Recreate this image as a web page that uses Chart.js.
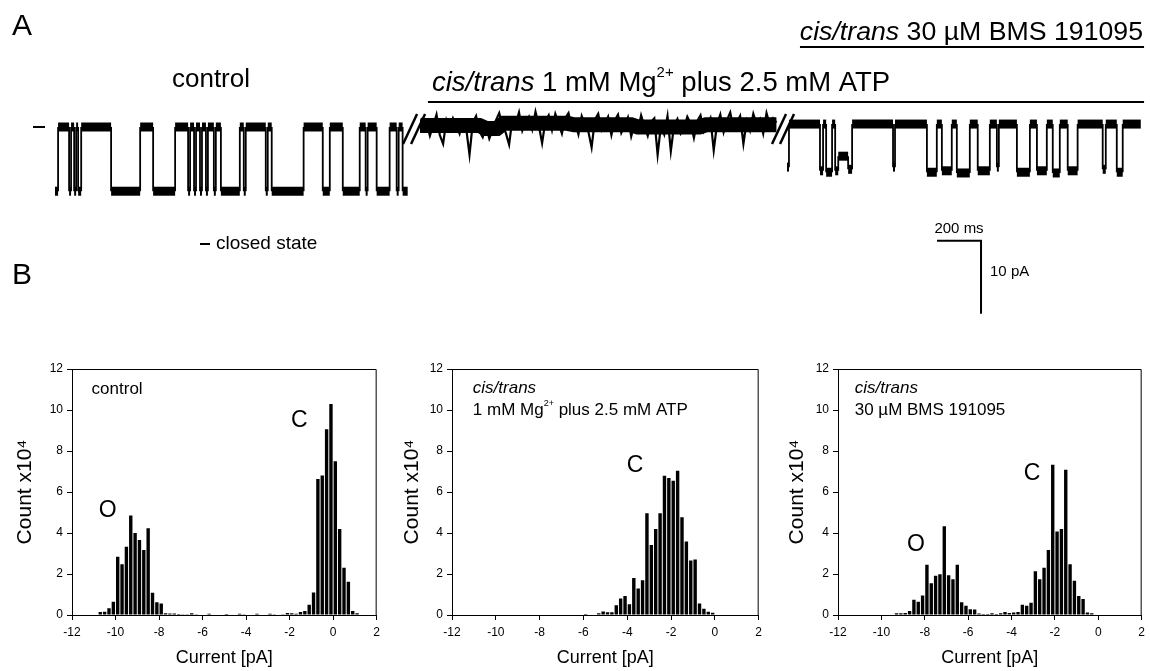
<!DOCTYPE html>
<html>
<head>
<meta charset="utf-8">
<script src="https://cdn.jsdelivr.net/npm/chart.js@4.4.0/dist/chart.umd.min.js"></script>
<style>
  html, body { margin: 0; padding: 0; background: #fff; }
  #wrap { position: relative; width: 1150px; height: 671px; overflow: hidden; }
  canvas { position: absolute; }
</style>
</head>
<body>
<div id="wrap">
  <canvas id="traces" width="1150" height="335" style="left:0;top:0"></canvas>
  <canvas id="h1" width="385" height="331" style="left:0;top:340px"></canvas>
  <canvas id="h2" width="382" height="331" style="left:385px;top:340px"></canvas>
  <canvas id="h3" width="383" height="331" style="left:767px;top:340px"></canvas>
</div>
<script>
const FONT = "'Liberation Sans', Arial, sans-serif";

// ---- panel A: single channel current traces, [current pA, dwell ms]
const controlStart = 0;
const controlTrace = [
  [-8.8, 14], [0, 50], [-8.8, 9], [0, 14], [-8.8, 9], [0, 9], [-8.8, 14], [0, 136],
  [-8.8, 132], [0, 59], [-8.8, 100], [0, 59], [-8.8, 9], [0, 18], [-8.8, 9], [0, 18],
  [-8.8, 9], [0, 18], [-8.8, 9], [0, 27], [-8.8, 9], [0, 23], [-8.8, 86], [0, 18],
  [-8.8, 9], [0, 91], [-8.8, 9], [0, 18], [-8.8, 145], [0, 87], [-8.8, 32], [0, 59],
  [-8.8, 77], [0, 27], [-8.8, 9], [0, 41], [-8.8, 59], [0, 32], [-8.8, 9], [0, 18],
  [-8.8, 23]
];

// Mg/ATP stretch: mean current [offset ms, pA] and sampled noise (pA), one value every mgStep ms
const mgStart = 1659;
const mgMean = [
  [0, 0.2], [270, 0.2], [300, -0.2], [350, -0.2], [380, 0.5], [670, 0.5], [700, 0.3],
  [960, 0.3], [990, 0.0], [1270, 0.0], [1300, 0.3], [1620, 0.3]
];
const mgStep = 15;
const mgTrace = [
  1.4, -0.3, 0.6, -1.2, 0.2, 1.7, -1.1, -2.3, 0.9, -0.4,
  1.2, 0.3, -0.9, 0.8, -0.2, -3.8, 0.6, 1.5, -0.6, -1.4,
  0.2, -1.6, -0.4, 0.9, 1.9, 0.1, -0.8, -2.4, 1.1, 0.4,
  2.0, -0.5, 0.7, 1.4, -0.3, 2.1, 0.2, -2.2, 0.8, 1.6,
  -0.4, 1.8, 0.5, -0.9, 1.2, 1.9, -0.2, 0.6, -1.0, 1.5,
  0.3, -0.6, -2.8, 1.0, 1.8, -0.4, 0.5, 1.4, -1.1, 0.9,
  1.7, -0.8, 0.2, 1.3, -1.3, 0.4, -0.5, 1.6, 0.1, -1.2,
  0.7, 1.2, -3.8, 0.2, -1.0, 1.5, -3.3, 0.3, 1.1, -0.9,
  -0.2, 1.4, 0.5, -1.5, 0.8, 1.6, -0.6, 0.3, 1.2, -3.2,
  0.4, 1.7, -0.7, 0.9, 2.0, -0.2, 0.6, 1.5, -2.3, 0.8,
  -0.5, 1.8, 0.4, 1.1, -0.9, 1.9, 0.3, 1.2, 0.6
];

const bmsStart = 3327;
const bmsTrace = [
  [-5.5, 9], [0.4, 141], [-6.0, 14], [0.4, 14], [-6.2, 27], [0.4, 14], [-6.0, 14], [-4.0, 45],
  [-5.8, 18], [0.4, 186], [-5.5, 9], [0.4, 145], [-6.2, 45], [0.4, 23], [-6.0, 45], [0.4, 23],
  [-6.3, 59], [0.4, 36], [-6.0, 55], [0.4, 32], [-5.5, 9], [0.4, 82], [-6.2, 59], [0.4, 32],
  [-6.0, 45], [0.4, 27], [-6.3, 32], [0.4, 36], [-6.0, 45], [0.4, 114], [-5.8, 14], [0.4, 50],
  [-6.2, 27], [0.4, 82]
];

const breakTimes = [1632, 3309];
const mgOn = 1695, bmsOn = 3386, recordEnd = 4950;
const scaleBar = { t: 4009, i: -15.6, ms: 200, pA: 10 };

// ---- panel B: all-points histograms, bin centres (pA) and counts (x10^4)
const binCenters = [
  -11.9, -11.7, -11.5, -11.3, -11.1, -10.9, -10.7, -10.5, -10.3, -10.1,
  -9.9, -9.7, -9.5, -9.3, -9.1, -8.9, -8.7, -8.5, -8.3, -8.1,
  -7.9, -7.7, -7.5, -7.3, -7.1, -6.9, -6.7, -6.5, -6.3, -6.1,
  -5.9, -5.7, -5.5, -5.3, -5.1, -4.9, -4.7, -4.5, -4.3, -4.1,
  -3.9, -3.7, -3.5, -3.3, -3.1, -2.9, -2.7, -2.5, -2.3, -2.1,
  -1.9, -1.7, -1.5, -1.3, -1.1, -0.9, -0.7, -0.5, -0.3, -0.1,
  0.1, 0.3, 0.5, 0.7, 0.9, 1.1, 1.3, 1.5, 1.7, 1.9
];
const controlCounts = [
  0, 0, 0, 0, 0, 0, 0.15, 0.16, 0.33, 0.65,
  2.84, 2.48, 3.33, 4.85, 4.0, 3.66, 3.17, 4.23, 1.09, 0.62,
  0.56, 0.08, 0.07, 0.07, 0.05, 0.04, 0.04, 0.08, 0.04, 0.03,
  0.03, 0.06, 0.03, 0.03, 0.03, 0.05, 0.03, 0.03, 0.06, 0.04,
  0.03, 0.03, 0.06, 0.03, 0.03, 0.06, 0.04, 0.03, 0.04, 0.1,
  0.08, 0.06, 0.15, 0.2, 0.5, 1.1, 6.64, 6.81, 9.06, 10.29,
  7.5, 4.2, 2.3, 1.62, 0.2, 0.08, 0.02, 0, 0, 0
];
const mgCounts = [
  0, 0, 0, 0, 0, 0, 0, 0, 0, 0,
  0, 0, 0, 0, 0, 0, 0, 0, 0, 0,
  0, 0, 0, 0, 0, 0, 0, 0, 0, 0,
  0.05, 0.02, 0.03, 0.08, 0.17, 0.13, 0.13, 0.47, 0.8, 0.93,
  0.52, 1.8, 1.29, 1.7, 4.96, 3.41, 4.2, 4.96, 6.79, 6.68,
  6.55, 7.04, 4.77, 3.58, 2.66, 2.71, 0.56, 0.31, 0.16, 0.11,
  0, 0, 0, 0, 0, 0, 0, 0, 0, 0
];
const bmsCounts = [
  0, 0, 0, 0, 0, 0, 0, 0, 0, 0,
  0, 0, 0, 0.08, 0.08, 0.1, 0.2, 0.75, 0.65, 0.95,
  2.45, 1.55, 1.91, 1.99, 4.33, 1.94, 1.75, 2.45, 0.62, 0.45,
  0.28, 0.27, 0.07, 0.05, 0.05, 0.08, 0.05, 0.08, 0.15, 0.1,
  0.12, 0.15, 0.5, 0.45, 0.6, 2.14, 1.75, 2.3, 3.17, 7.33,
  4.07, 4.2, 7.09, 2.48, 1.67, 0.93, 0.78, 0.12, 0.08, 0.02,
  0.03, 0, 0, 0, 0, 0, 0, 0, 0, 0
];

// draws [text, style] pieces; style: '' normal, 'i' italic, 's' superscript
function richText(ctx, x, y, parts, size, align) {
  const fontFor = (st) => st === 'i' ? `italic ${size}px ${FONT}`
    : st === 's' ? `${Math.round(size * 0.55)}px ${FONT}` : `${size}px ${FONT}`;
  let total = 0;
  parts.forEach(([t, st]) => { ctx.font = fontFor(st); total += ctx.measureText(t).width; });
  let cx = align === 'right' ? x - total : align === 'center' ? x - total / 2 : x;
  ctx.textAlign = 'left';
  ctx.textBaseline = 'middle';
  parts.forEach(([t, st]) => {
    ctx.font = fontFor(st);
    ctx.fillText(t, cx, st === 's' ? y - size * 0.38 : y);
    cx += ctx.measureText(t).width;
  });
}

// dwell list -> step trace
function buildTrace(pairs, start) {
  const pts = [];
  let t = start;
  pairs.forEach(([v, d]) => {
    pts.push({ x: t, y: v });
    t += d;
    pts.push({ x: t, y: v });
  });
  return pts;
}

// flat stretches drawn as a wide band (noise), jumps as thin lines
const segWidth = (thick) => (c) => Math.abs(c.p0.parsed.y - c.p1.parsed.y) < 1.2 ? thick : 1.8;

const traceDecor = {
  id: 'traceDecor',
  afterDatasetsDraw(chart) {
    const { ctx, scales: { x, y } } = chart;
    ctx.save();
    ctx.fillStyle = '#000';
    ctx.strokeStyle = '#000';

    // break marks
    ctx.lineWidth = 2.5;
    breakTimes.forEach((bt) => {
      const px = x.getPixelForValue(bt);
      const py = y.getPixelForValue(0) + 2;
      [-4, 4].forEach((o) => {
        ctx.beginPath();
        ctx.moveTo(px + o - 7, py + 15);
        ctx.lineTo(px + o + 7, py - 15);
        ctx.stroke();
      });
    });
    ctx.strokeStyle = '#fff';
    ctx.lineWidth = 3;
    breakTimes.forEach((bt) => {
      const px = x.getPixelForValue(bt);
      const py = y.getPixelForValue(0) + 2;
      ctx.beginPath();
      ctx.moveTo(px - 7, py + 15);
      ctx.lineTo(px + 7, py - 15);
      ctx.stroke();
    });
    ctx.strokeStyle = '#000';

    // drug application bars
    ctx.lineWidth = 2;
    ctx.beginPath();
    ctx.moveTo(x.getPixelForValue(mgOn), 102);
    ctx.lineTo(x.getPixelForValue(recordEnd), 102);
    ctx.moveTo(x.getPixelForValue(bmsOn), 47);
    ctx.lineTo(x.getPixelForValue(recordEnd), 47);
    ctx.stroke();

    // closed level marker
    const y0 = y.getPixelForValue(0);
    ctx.beginPath();
    ctx.moveTo(33, y0);
    ctx.lineTo(45, y0);
    ctx.stroke();

    // scale bar
    const sx0 = x.getPixelForValue(scaleBar.t);
    const sx1 = x.getPixelForValue(scaleBar.t + scaleBar.ms);
    const sy0 = y.getPixelForValue(scaleBar.i);
    const sy1 = y.getPixelForValue(scaleBar.i - scaleBar.pA);
    ctx.beginPath();
    ctx.moveTo(sx0, sy0);
    ctx.lineTo(sx1, sy0);
    ctx.lineTo(sx1, sy1);
    ctx.stroke();
    richText(ctx, (sx0 + sx1) / 2, sy0 - 12, [['200 ms', '']], 15, 'center');
    richText(ctx, sx1 + 9, 272, [['10 pA', '']], 15, 'left');

    // closed state legend
    ctx.beginPath();
    ctx.moveTo(200, 244);
    ctx.lineTo(210, 244);
    ctx.stroke();
    richText(ctx, 216, 244, [['closed state', '']], 19, 'left');

    // labels
    richText(ctx, 12, 27, [['A', '']], 30, 'left');
    richText(ctx, 12, 276, [['B', '']], 30, 'left');
    richText(ctx, 211, 80, [['control', '']], 26, 'center');
    richText(ctx, 432, 83, [['cis/trans', 'i'], [' 1 mM Mg', ''], ['2+', 's'], [' plus 2.5 mM ATP', '']], 27.5, 'left');
    richText(ctx, 1143, 33, [['cis/trans', 'i'], [' 30 \u00b5M BMS 191095', '']], 26.7, 'right');
    ctx.restore();
  }
};

new Chart(document.getElementById('traces'), {
  type: 'line',
  data: {
    datasets: [
      { data: buildTrace(controlTrace, controlStart), segment: { borderWidth: segWidth(9) } },
      { data: mgMean.map(([dt, v]) => ({ x: mgStart + dt, y: v })), borderWidth: 15 },
      { data: mgTrace.map((v, k) => ({ x: mgStart + k * mgStep, y: v })), borderWidth: 2.2 },
      { data: buildTrace(bmsTrace, bmsStart), segment: { borderWidth: segWidth(9) } }
    ]
  },
  options: {
    responsive: false,
    animation: false,
    events: [],
    layout: { padding: 0 },
    elements: {
      line: { borderColor: '#000', borderWidth: 2, tension: 0, fill: false },
      point: { radius: 0 }
    },
    plugins: { legend: { display: false }, tooltip: { enabled: false } },
    scales: {
      x: { type: 'linear', display: false, min: -250, max: 4977 },
      y: { display: false, min: -28.5, max: 17.4 }
    }
  },
  plugins: [traceDecor]
});

// frame + in-plot labels for each histogram
function histDecor(notes) {
  return {
    id: 'histDecor',
    afterDraw(chart) {
      const { ctx, chartArea: a, scales: { x, y } } = chart;
      ctx.save();
      ctx.strokeStyle = '#000';
      ctx.lineWidth = 1;
      ctx.beginPath();
      ctx.moveTo(a.left, a.top + 0.5);
      ctx.lineTo(a.right - 0.5, a.top + 0.5);
      ctx.lineTo(a.right - 0.5, a.bottom);
      ctx.stroke();
      ctx.fillStyle = '#000';
      notes.forEach((n) => {
        richText(ctx, x.getPixelForValue(n.x), y.getPixelForValue(n.y), n.parts, n.size, n.align || 'left');
      });
      ctx.restore();
    }
  };
}

function histChart(id, counts, axisWidth, padRight, titlePad, notes) {
  const tickFont = { family: FONT, size: 12 };
  new Chart(document.getElementById(id), {
    type: 'bar',
    data: {
      datasets: [{
        data: binCenters.map((c, i) => ({ x: c, y: counts[i] })),
        backgroundColor: '#000',
        borderWidth: 0,
        barPercentage: 0.78,
        categoryPercentage: 1
      }]
    },
    options: {
      responsive: false,
      animation: false,
      events: [],
      layout: { padding: { top: 29, right: padRight, left: 0, bottom: 0 } },
      plugins: { legend: { display: false }, tooltip: { enabled: false } },
      scales: {
        x: {
          type: 'linear', min: -12, max: 2, offset: false,
          afterFit: (s) => { s.height = 56; },
          ticks: { stepSize: 2, color: '#000', font: tickFont, padding: 5, maxRotation: 0 },
          grid: { drawOnChartArea: false, offset: false, color: '#000', tickLength: 5 },
          border: { color: '#000', width: 1 },
          title: { display: true, text: 'Current [pA]', color: '#000', font: { family: FONT, size: 18 }, padding: { top: 0, bottom: 2 } }
        },
        y: {
          min: 0, max: 12,
          afterFit: (s) => { s.width = axisWidth; },
          ticks: { stepSize: 2, color: '#000', font: tickFont, padding: 4 },
          grid: { drawOnChartArea: false, color: '#000', tickLength: 5 },
          border: { color: '#000', width: 1 },
          title: { display: true, text: 'Count x10\u2074', color: '#000', font: { family: FONT, size: 21 }, padding: { top: titlePad, bottom: 0 } }
        }
      }
    },
    plugins: [histDecor(notes)]
  });
}

histChart('h1', controlCounts, 72, 5, 13, [
  { x: -11.1, y: 11.0, parts: [['control', '']], size: 17 },
  { x: -10.36, y: 5.1, parts: [['O', '']], size: 23, align: 'center' },
  { x: -1.55, y: 9.46, parts: [['C', '']], size: 23, align: 'center' }
]);
histChart('h2', mgCounts, 67, 5, 15, [
  { x: -11.05, y: 11.07, parts: [['cis/trans', 'i']], size: 17 },
  { x: -11.05, y: 10.0, parts: [['1 mM Mg', ''], ['2+', 's'], [' plus 2.5 mM ATP', '']], size: 17 },
  { x: -3.64, y: 7.27, parts: [['C', '']], size: 23, align: 'center' }
]);
histChart('h3', bmsCounts, 71, 4, 18, [
  { x: -11.23, y: 11.07, parts: [['cis/trans', 'i']], size: 17 },
  { x: -11.23, y: 10.0, parts: [['30 \u00b5M BMS 191095', '']], size: 17 },
  { x: -8.41, y: 3.41, parts: [['O', '']], size: 23, align: 'center' },
  { x: -3.05, y: 6.88, parts: [['C', '']], size: 23, align: 'center' }
]);
</script>
</body>
</html>
